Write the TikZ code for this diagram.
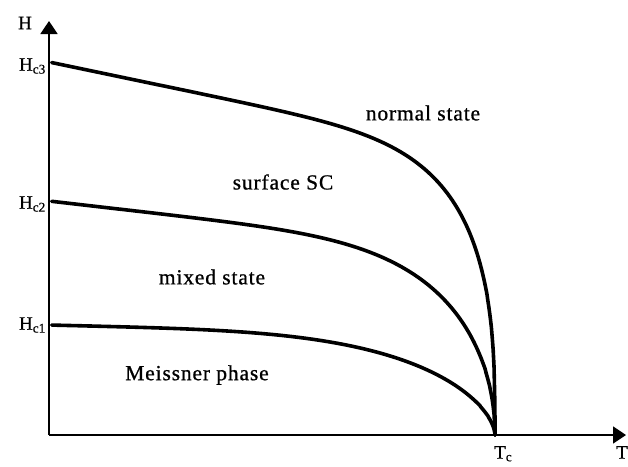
\documentclass[tikz,border=0pt]{standalone}
\usepackage{fontspec}
\setmainfont{Liberation Serif}
\newfontfamily\lblfont[LetterSpace=4,FakeBold=0.8]{Liberation Serif}
\newfontfamily\axfont[FakeBold=0.6]{Liberation Serif}
\usetikzlibrary{arrows.meta}
\begin{document}
\begin{tikzpicture}[x=1pt,y=-1pt,
  axis/.style={line width=1.8pt,-{Triangle[length=13pt,width=17pt]}},
  curve/.style={line width=3.6pt,line cap=round,line join=round},
  region/.style={font=\lblfont\fontsize{21.5}{24}\selectfont,inner sep=0pt},
  axlbl/.style={font=\axfont\fontsize{19}{22}\selectfont,inner sep=0pt}]
\useasboundingbox (0,0) rectangle (628,466);
\coordinate (O) at (49,435);
\coordinate (Ytop) at (49,21);
\coordinate (Xend) at (626,435);
\coordinate (Tc) at (495,435);
\draw[axis] (O) -- (Ytop);
\draw[axis] (O) -- (Xend);
% H_c3
\draw[curve] plot[domain=0.006:0.99995,samples=500,variable=\t]
  ({49+446*\t},{435-373*(1-0.25*\t)*(1-\t^8)^0.35}) -- (Tc);
% H_c2
\draw[curve] plot[domain=0.006:0.99995,samples=500,variable=\t]
  ({49+446*\t},{435-234*(1-0.22*\t)*(1-\t^6)^0.5}) -- (Tc);
% H_c1
\draw[curve] plot[domain=0.006:0.99995,samples=500,variable=\t]
  ({49+446*\t},{435-110*(1-0.1*\t)*(1-\t^4)^0.6}) -- (Tc);
% labels
\node[axlbl] (lH) at (25,23) {H};
\node[axlbl,anchor=east] (lHc3) at (46,66) {H\textsubscript{c3}};
\node[axlbl,anchor=east] (lHc2) at (46,204) {H\textsubscript{c2}};
\node[axlbl,anchor=east] (lHc1) at (46,325) {H\textsubscript{c1}};
\node[axlbl,anchor=north west] (lTc) at (494,446) {T\textsubscript{c}};
\node[axlbl,anchor=north east] (lT) at (628,446) {T};
\node[region] (normal) at (423,113) {normal state};
\node[region] (surface) at (283,182) {surface SC};
\node[region] (mixed) at (212,277) {mixed state};
\node[region] (meissner) at (197,375) {Meissner phase};
\end{tikzpicture}
\end{document}
